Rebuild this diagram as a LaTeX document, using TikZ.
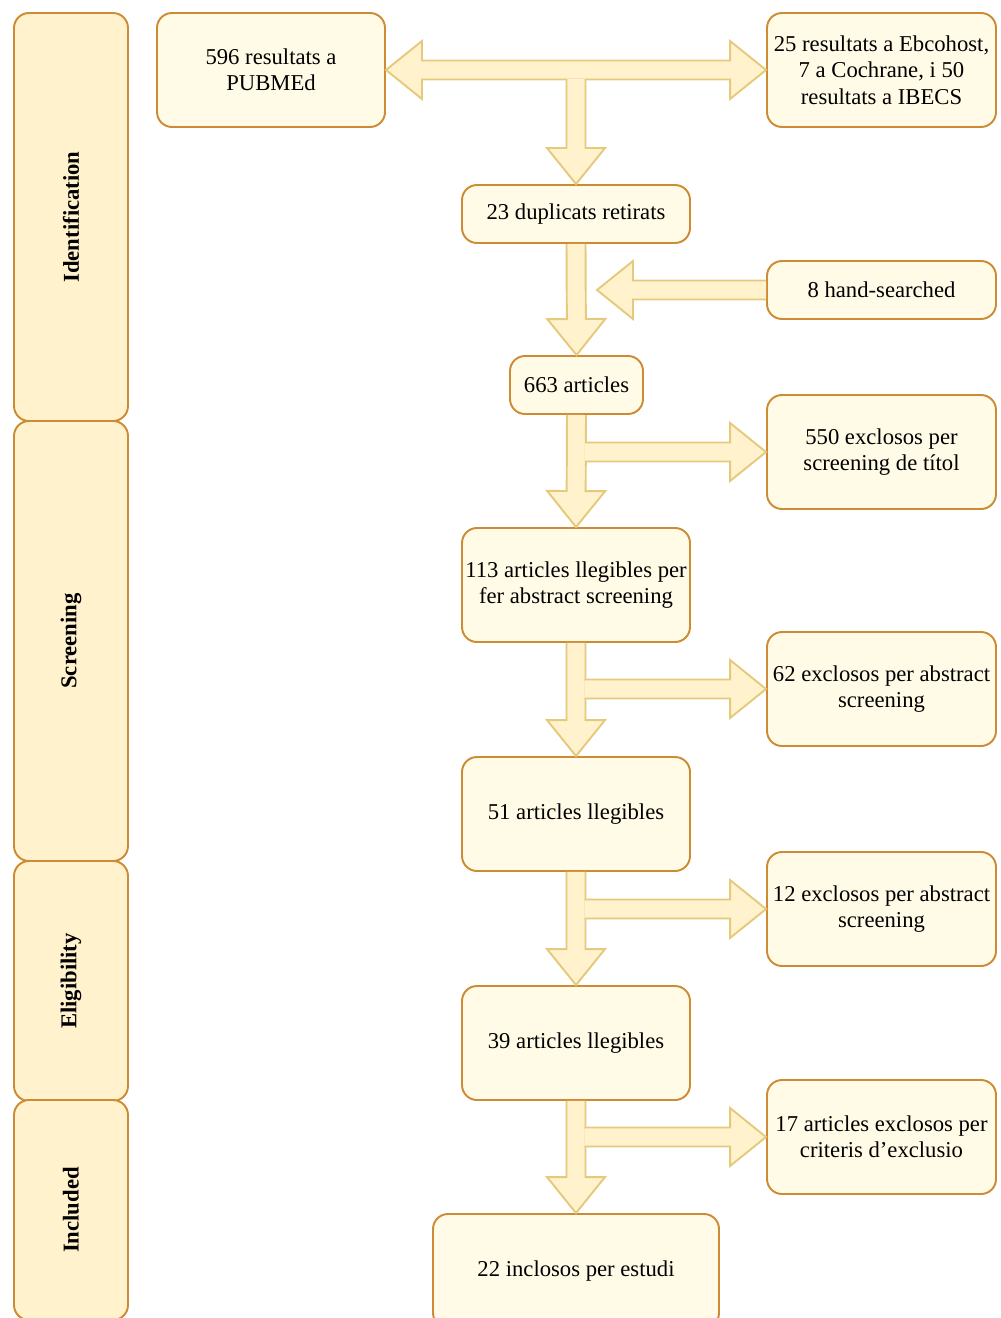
\documentclass[tikz,border=0pt]{standalone}
\usepackage{fontspec}
\setmainfont{Liberation Serif}
\usetikzlibrary{calc}
\definecolor{laneFill}{HTML}{FFF2CC}
\definecolor{boxFill}{HTML}{FFFBE6}
\definecolor{boxLine}{HTML}{CD8B36}
\definecolor{arrowFill}{HTML}{FFF2CC}
\definecolor{arrowLine}{HTML}{E5C97C}
\newcommand{\flowfont}{\fontsize{12.9}{15}\selectfont}
\tikzset{
         lane/.style={draw=boxLine,fill=laneFill,line width=1.1pt,rounded corners=0.3cm,
                      rotate=90,minimum height=2.28cm,inner sep=0pt,font=\flowfont\bfseries},
         box/.style={draw=boxLine,fill=boxFill,line width=1.1pt,rounded corners=0.3cm,
                     align=center,inner sep=1pt,minimum width=4.56cm,minimum height=2.28cm,font=\flowfont},
         flat/.style={minimum height=1.16cm},
         % single block arrow, open at its tail so that it merges with the shaft it leaves
         blockarrow/.style=
          {
           draw=arrowLine,fill=arrowFill,line width=1.1pt,
           to path=
            {
             ($(\tikztostart)!0.19cm!90:(\tikztotarget)$)
             -- ($(\tikztotarget)!0.72cm!(\tikztostart)!0.19cm!90:(\tikztotarget)$)
             -- ($(\tikztotarget)!0.72cm!(\tikztostart)!0.58cm!90:(\tikztotarget)$)
             -- (\tikztotarget)
             -- ($(\tikztotarget)!0.72cm!(\tikztostart)!0.58cm!-90:(\tikztotarget)$)
             -- ($(\tikztotarget)!0.72cm!(\tikztostart)!0.19cm!-90:(\tikztotarget)$)
             -- ($(\tikztostart)!0.19cm!-90:(\tikztotarget)$)
            }
          },
         % block arrow with a head at both ends
         blockarrows/.style=
          {
           draw=arrowLine,fill=arrowFill,line width=1.1pt,
           to path=
            {
             -- ($(\tikztostart)!0.72cm!(\tikztotarget)!0.58cm!90:(\tikztotarget)$)
             -- ($(\tikztostart)!0.72cm!(\tikztotarget)!0.19cm!90:(\tikztotarget)$)
             -- ($(\tikztotarget)!0.72cm!(\tikztostart)!0.19cm!90:(\tikztotarget)$)
             -- ($(\tikztotarget)!0.72cm!(\tikztostart)!0.58cm!90:(\tikztotarget)$)
             -- (\tikztotarget)
             -- ($(\tikztotarget)!0.72cm!(\tikztostart)!0.58cm!-90:(\tikztotarget)$)
             -- ($(\tikztotarget)!0.72cm!(\tikztostart)!0.19cm!-90:(\tikztotarget)$)
             -- ($(\tikztostart)!0.72cm!(\tikztotarget)!0.19cm!-90:(\tikztotarget)$)
             -- ($(\tikztostart)!0.72cm!(\tikztotarget)!0.58cm!-90:(\tikztotarget)$)
             -- cycle
            }
          }
        }

\begin{document}
\begin{tikzpicture}
      \useasboundingbox (0,0) rectangle (20,-26.36); % page size
      \node[lane,minimum width=8.16cm] (identification) at (1.42,-4.34) {Identification}; % lanes
      \node[lane,minimum width=8.80cm] (screening) at (1.42,-12.82) {Screening};
      \node[lane,minimum width=4.80cm] (eligibility) at (1.42,-19.62) {Eligibility};
      \node[lane,minimum width=4.40cm] (included) at (1.42,-24.20) {Included};
      \node[box] (pubmed) at (5.42,-1.40) {596 resultats a\\PUBMEd}; % sources
      \node[box,minimum width=4.58cm] (others) at (17.63,-1.40) {25 resultats a Ebcohost,\\7 a Cochrane, i 50\\resultats a IBECS};
      \node[box,flat] (duplicates) at (11.52,-4.28) {23 duplicats retirats};
      \node[box,flat,minimum width=4.58cm] (handsearch) at (17.63,-5.80) {8 hand-searched};
      \node[box,flat,minimum width=2.66cm] (total) at (11.53,-7.70) {663 articles};
      \node[box,minimum width=4.58cm] (titleout) at (17.63,-9.04) {550 exclosos per\\screening de títol};
      \node[box] (abstractin) at (11.52,-11.70) {113 articles llegibles per\\fer abstract screening};
      \node[box,minimum width=4.58cm] (abstractout) at (17.63,-13.78) {62 exclosos per abstract\\screening};
      \node[box] (eligible) at (11.52,-16.28) {51 articles llegibles};
      \node[box,minimum width=4.58cm] (fullout) at (17.63,-18.18) {12 exclosos per abstract\\screening};
      \node[box] (assessed) at (11.52,-20.86) {39 articles llegibles};
      \node[box,minimum width=4.58cm] (criteriaout) at (17.63,-22.74) {17 articles exclosos per\\criteris d'exclusio};
      \node[box,minimum width=5.72cm] (final) at (11.52,-25.42) {22 inclosos per estudi};
      % junctions on the arrow shafts
      \coordinate (jtop) at ([yshift=-0.18cm]pubmed.east -| duplicates.north);
      \coordinate (jhand) at ([xshift=0.42cm]duplicates.south |- handsearch.west);
      \coordinate (jtitle) at ([xshift=0.17cm]total.south |- titleout.west);
      \coordinate (jabstract) at ([xshift=0.17cm]abstractin.south |- abstractout.west);
      \coordinate (jfull) at ([xshift=0.17cm]eligible.south |- fullout.west);
      \coordinate (jcriteria) at ([xshift=0.17cm]assessed.south |- criteriaout.west);
      \path[blockarrows] (pubmed.east) to (others.west); % sources
      \path[blockarrow] (jtop) to (duplicates.north); % main flow
      \path[blockarrow] (duplicates.south) to (total.north);
      \path[blockarrow] (handsearch.west) to (jhand);
      \path[blockarrow] (total.south) to (abstractin.north);
      \path[blockarrow] (abstractin.south) to (eligible.north);
      \path[blockarrow] (eligible.south) to (assessed.north);
      \path[blockarrow] (assessed.south) to (final.north);
      \path[blockarrow] (jtitle) to (titleout.west); % exclusions
      \path[blockarrow] (jabstract) to (abstractout.west);
      \path[blockarrow] (jfull) to (fullout.west);
      \path[blockarrow] (jcriteria) to (criteriaout.west);
    \end{tikzpicture}
\end{document}
